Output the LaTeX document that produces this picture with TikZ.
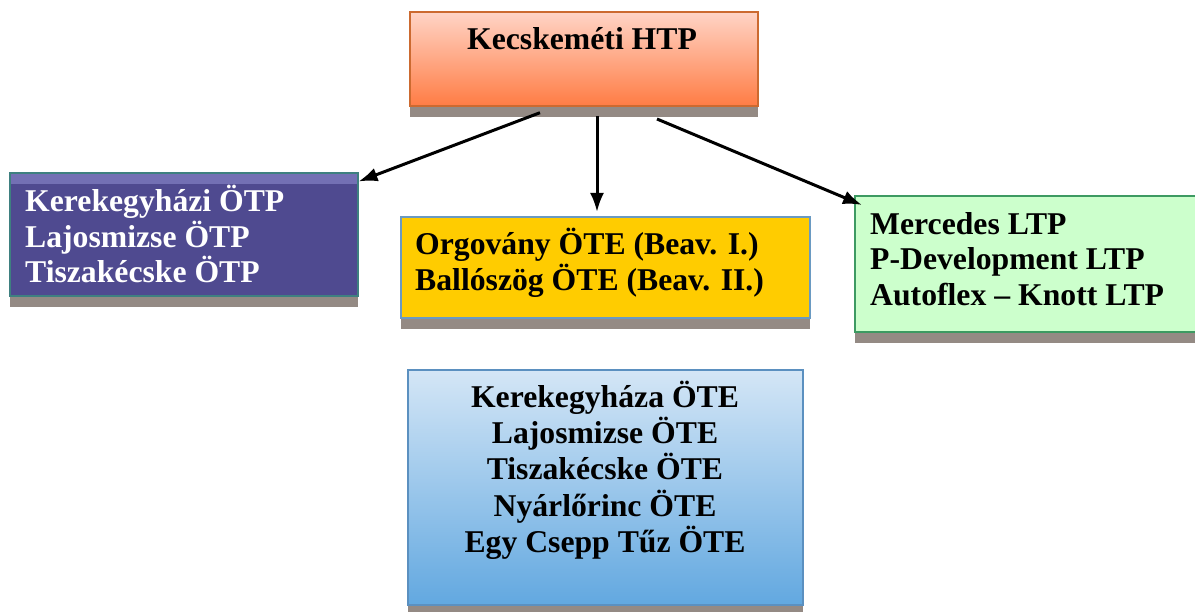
\documentclass[tikz,border=0pt]{standalone}
\usepackage{fontspec}
\setmainfont{Liberation Serif}
\usetikzlibrary{arrows.meta,calc}
\definecolor{shadowc}{HTML}{948A84}
\definecolor{htptop}{HTML}{FFD4C6}
\definecolor{htpbot}{HTML}{FF7C44}
\definecolor{htpline}{HTML}{CC6A30}
\definecolor{otpfill}{HTML}{4F4A90}
\definecolor{otpstrip}{HTML}{7370B4}
\definecolor{otpline}{HTML}{3E8080}
\definecolor{otefill}{HTML}{FFCC00}
\definecolor{oteline}{HTML}{6A9AC2}
\definecolor{ltpfill}{HTML}{CCFFCC}
\definecolor{ltpline}{HTML}{3D9A62}
\definecolor{bluetop}{HTML}{D4E6F6}
\definecolor{bluebot}{HTML}{62A8E0}
\definecolor{blueline}{HTML}{5B90C0}
\begin{document}
\begin{tikzpicture}[x=1pt,y=-1pt,
  box/.style={draw, line width=1.6pt, inner sep=0pt, outer sep=0pt, anchor=north west},
  shadowbar/.style={fill=shadowc, draw=none},
  lbl/.style={font=\fontsize{31.7}{36}\selectfont\bfseries, inner sep=0pt},
  arr/.style={-{Latex[length=19pt,width=14pt]}, line width=3pt}]
\useasboundingbox (0,0) rectangle (1195,612);

% shadows
\path[shadowbar] (410,106) rectangle (758,117);
\path[shadowbar] (10,296) rectangle (358,307);
\path[shadowbar] (401,318) rectangle (810,329);
\path[shadowbar] (855,332) rectangle (1205,343);
\path[shadowbar] (408,605) rectangle (803,617);

% boxes
\node[box, draw=htpline, top color=htptop, bottom color=htpbot,
      minimum width=348pt, minimum height=94pt] (htp) at (410,12) {};
\node[box, draw=otpline, fill=otpfill,
      minimum width=348pt, minimum height=123pt] (otp) at (10,173) {};
\path[fill=otpstrip] (10.8,173.8) rectangle (357.2,184);
\node[box, draw=oteline, fill=otefill,
      minimum width=409pt, minimum height=101pt] (ote) at (401,217) {};
\node[box, draw=ltpline, fill=ltpfill,
      minimum width=350pt, minimum height=136pt] (ltp) at (855,196) {};
\node[box, draw=blueline, top color=bluetop, bottom color=bluebot,
      minimum width=395pt, minimum height=235pt] (ote2) at (408,370) {};

% texts
\node[lbl, anchor=base] (t0) at (582,50) {Kecskeméti HTP};

\node[lbl, anchor=base west, text=white] (ta1) at (25,211.7) {Kerekegyházi ÖTP};
\node[lbl, anchor=base west, text=white] (ta2) at (25,247.3) {Lajosmizse ÖTP};
\node[lbl, anchor=base west, text=white] (ta3) at (25,282.9) {Tiszakécske ÖTP};

\node[lbl, anchor=base west] (tb1) at (415,255) {Orgovány ÖTE (Beav. I.)};
\node[lbl, anchor=base west] (tb2) at (415,290.6) {Ballószög ÖTE (Beav. II.)};

\node[lbl, anchor=base west] (tc1) at (870,234.3) {Mercedes LTP};
\node[lbl, anchor=base west] (tc2) at (870,270) {P-Development LTP};
\node[lbl, anchor=base west] (tc3) at (870,305.5) {Autoflex -- Knott LTP};

\node[lbl, anchor=base] (td1) at (605,407) {Kerekegyháza ÖTE};
\node[lbl, anchor=base] (td2) at (605,443.4) {Lajosmizse ÖTE};
\node[lbl, anchor=base] (td3) at (605,479.8) {Tiszakécske ÖTE};
\node[lbl, anchor=base] (td4) at (605,516.2) {Nyárlőrinc ÖTE};
\node[lbl, anchor=base] (td5) at (605,552.6) {Egy Csepp Tűz ÖTE};

% connectors
\coordinate (s1) at (540,112.7);
\coordinate (e1) at (358.5,181.5);
\coordinate (s2) at (597,116);
\coordinate (e2) at (597,212);
\coordinate (s3) at (657,119);
\coordinate (e3) at (862,205);
\draw[arr] (s1) -- (e1);
\draw[arr] (s2) -- (e2);
\draw[arr] (s3) -- (e3);
\end{tikzpicture}
\end{document}
